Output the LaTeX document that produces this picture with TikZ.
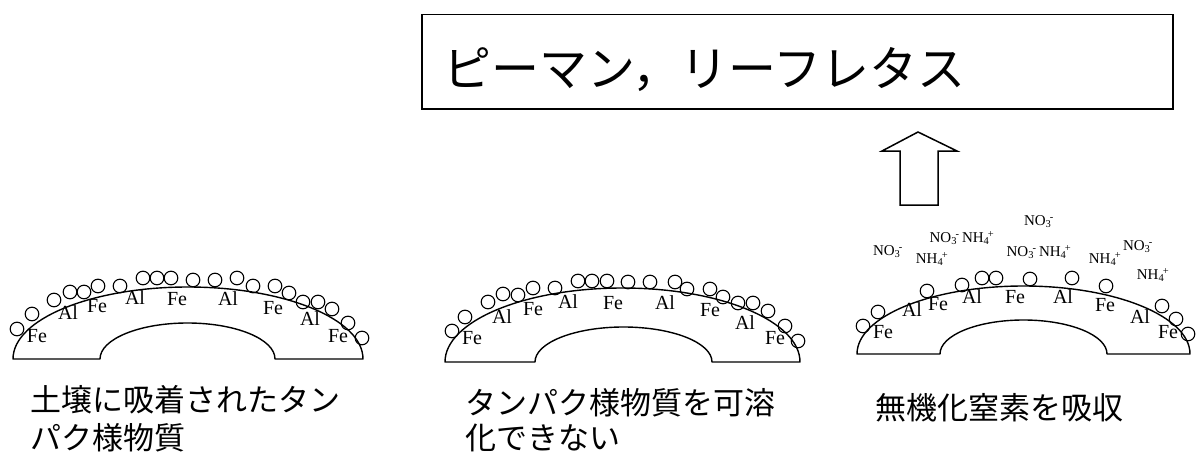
\documentclass[tikz,border=0pt]{standalone}
\usepackage{fontspec}
\setmainfont{Liberation Serif}
\newfontfamily\jpfont{Noto Sans CJK JP}
% ion with subscript count and superscript charge
\newcommand\ionlabel[3]{#1\textsubscript{#2}\kern-0.1em\textsuperscript{#3}}
\begin{document}
\begin{tikzpicture}[x=1pt,y=1pt,
  grain/.style={draw, line width=1.4pt, line join=round},
  bead/.style={draw, line width=1.1pt},
  metal/.style={inner sep=0pt, font=\fontsize{20pt}{20pt}\selectfont},
  ionlbl/.style={inner sep=0pt, font=\fontsize{15pt}{15pt}\selectfont},
  caption/.style={inner sep=0pt, anchor=base west, align=left, font=\jpfont\fontsize{31pt}{38pt}\selectfont},
  framebox/.style={draw, line width=1.5pt, inner sep=0pt, anchor=north west},
  uparrow/.style={draw, line width=1.5pt, line join=miter},
]
\useasboundingbox (0,0) rectangle (1196,459);

% ---- soil grain 1: adsorbed protein-like matter ----
\draw[grain] (13,100) arc[start angle=180,end angle=0,x radius=175,y radius=72]
  -- (275,100) arc[start angle=0,end angle=180,x radius=87.5,y radius=36] -- cycle;
\foreach \x/\y in {17/130,32/145,54/159,70/167,84/167,98/173,120/173,143/181,157/181,
  171/181,193/179,215/179,237/181,253/173,275/173,289/166,303/157,318/157,332/150,
  348/136,362/121}
  \draw[bead] (\x,\y) circle[radius=6.8];
\foreach \x/\y/\t [count=\i] in {37/123/Fe,68/146/Al,97/153/Fe,135/161/Al,177/160/Fe,
  228/160/Al,273/151/Fe,310/140/Al,338/123/Fe}
  \node[metal] (ga-\i) at (\x,\y) {\t};

% ---- soil grain 2 ----
\draw[grain] (445,97) arc[start angle=180,end angle=0,x radius=177.5,y radius=74]
  -- (712,97) arc[start angle=0,end angle=180,x radius=88.5,y radius=35] -- cycle;
\foreach \x/\y in {452/128,465/142,488/157,503/165,518/164,533/171,555/171,578/178,
  592/178,607/178,628/177,650/177,675/177,687/170,710/170,723/162,738/156,753/156,
  768/148,785/133,798/118}
  \draw[bead] (\x,\y) circle[radius=6.8];
\foreach \x/\y/\t [count=\i] in {472/121/Fe,502/142/Al,533/150/Fe,568/157/Al,613/156/Fe,
  665/156/Al,710/149/Fe,745/136/Al,775/121/Fe}
  \node[metal] (gb-\i) at (\x,\y) {\t};

% ---- soil grain 3: mineral nitrogen released ----
\draw[grain] (857,105) arc[start angle=180,end angle=0,x radius=166.5,y radius=68]
  -- (1107,105) arc[start angle=0,end angle=180,x radius=83.5,y radius=34] -- cycle;
\foreach \x/\y in {863/133,878/147,927/168,962/174,982/181,996/181,1030/180,1072/181,
  1106/173,1162/153,1176/140,1188/125}
  \draw[bead] (\x,\y) circle[radius=6.8];
\foreach \x/\y/\t [count=\i] in {883/127/Fe,912/149/Al,938/155/Fe,972/162/Al,1015/162/Fe,
  1063/162/Al,1105/154/Fe,1140/142/Al,1168/127/Fe}
  \node[metal] (gc-\i) at (\x,\y) {\t};

% ions in solution
\node[ionlbl] (n1) at (1039,237) {\ionlabel{NO}{3}{-}};
\node[ionlbl] (n2) at (962,221) {\ionlabel{NO}{3}{-}\,\ionlabel{NH}{4}{+}};
\node[ionlbl] (n3) at (888,207) {\ionlabel{NO}{3}{-}};
\node[ionlbl] (n4) at (932,200) {\ionlabel{NH}{4}{+}};
\node[ionlbl] (n5) at (1039,207) {\ionlabel{NO}{3}{-}\,\ionlabel{NH}{4}{+}};
\node[ionlbl] (n6) at (1105,200) {\ionlabel{NH}{4}{+}};
\node[ionlbl] (n7) at (1138,212) {\ionlabel{NO}{3}{-}};
\node[ionlbl] (n8) at (1153,184) {\ionlabel{NH}{4}{+}};

% uptake arrow
\draw[uparrow] (900,254) -- (900,308) -- (882,308) -- (918,327) -- (957,308)
  -- (938,308) -- (938,254) -- cycle;

% crops box
\node[framebox, minimum width=751pt, minimum height=94pt] (cropbox) at (421,445) {};
\node[inner sep=0pt, anchor=base west, font=\jpfont\fontsize{48pt}{48pt}\selectfont]
  (crops) at (443,373) {ピーマン，リーフレタス};

% captions (anchored at the baseline of the last line)
\node[caption] (cap1) at (30,10) {土壌に吸着されたタン\\パク様物質};
\node[caption, font=\jpfont\fontsize{31pt}{35pt}\selectfont] (cap2) at (465,10) {タンパク様物質を可溶\\化できない};
\node[caption] (cap3) at (875,40) {無機化窒素を吸収};
\end{tikzpicture}
\end{document}
